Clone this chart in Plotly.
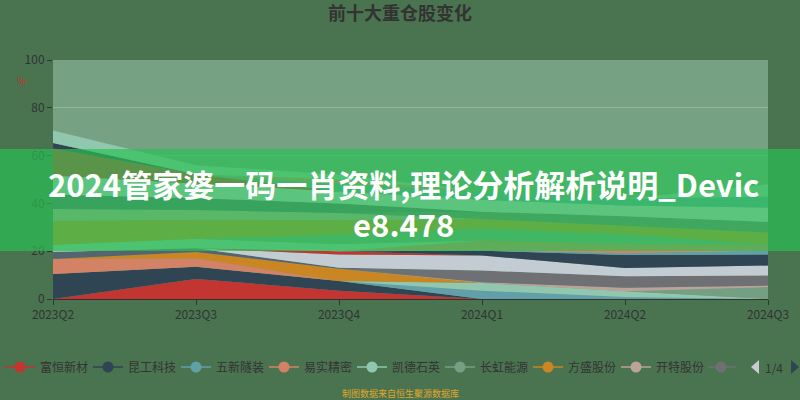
import plotly.graph_objects as go

# ---------------- data ----------------
quarters = ["2023Q2", "2023Q3", "2023Q4", "2024Q1", "2024Q2", "2024Q3"]

# legend stocks (first legend page)
fuheng = [0, 8.4, 3.5, 0, 0, 0]          # 富恒新材
kungong = [10.5, 5.1, 4.0, 0, 0, 0]      # 昆工科技
wuxin = [0, 0, 0, 3.5, 0.8, 0]           # 五新隧装
yishi = [6.2, 3.6, 0, 0, 0, 0]           # 易实精密
kaide = [0, 0, 0, 3.2, 2.4, 0]           # 凯德石英
changhong = [0, 0, 0, 0, 0, 5.0]         # 长虹能源
fangsheng = [0, 2.6, 5.2, 0, 0, 0]       # 方盛股份
kaite = [0, 0, 0, 0.3, 1.5, 0.6]         # 开特股份

# remaining holdings (later legend pages)
s09 = [0, 0, 0, 4.9, 4.8, 4.2]
s10 = [3.0, 1.5, 0.4, 0, 0, 0]
s11 = [0, 0, 5.5, 6.3, 3.5, 4.2]
s12 = [0, 0, 1.4, 0, 0, 0]
s13 = [0, 0, 0, 2.0, 5.4, 4.6]
s14 = [0, 0, 0, 0.3, 0.7, 1.7]
s15 = [0, 0, 0, 4.0, 4.0, 2.5]
s16 = [3.0, 4.0, 3.0, 0, 0, 0]
s17 = [0, 0, 4.0, 5.0, 4.0, 0]
s18 = [10.0, 8.0, 6.0, 4.0, 3.5, 5.0]
s19 = [5.0, 4.0, 3.0, 0, 0, 0]
s20 = [0, 0, 0, 3.0, 4.0, 4.5]
s21 = [6.0, 5.0, 4.0, 0, 0, 0]
s22 = [8.0, 6.0, 5.0, 5.0, 4.5, 6.0]
s23 = [11.3, 4.0, 0, 0, 0, 0]
s24 = [2.3, 0, 0, 0, 0, 0]
s25 = [0, 0, 3.0, 3.5, 2.8, 4.5]
s26 = [0, 0, 2.0, 0, 0, 0]
s27 = [5.2, 3.8, 2.0, 0, 0, 5.2]

legend_names = ["富恒新材", "昆工科技", "五新隧装", "易实精密", "凯德石英",
                "长虹能源", "方盛股份", "开特股份"]
other_names = ["持仓%02d" % i for i in range(9, 28)]

series = [fuheng, kungong, wuxin, yishi, kaide, changhong, fangsheng, kaite,
          s09, s10, s11, s12, s13, s14, s15, s16, s17, s18, s19, s20, s21,
          s22, s23, s24, s25, s26, s27]
names = legend_names + other_names

palette = ['#c23531', '#2f4554', '#61a0a8', '#d48265', '#91c7ae', '#749f83',
           '#ca8622', '#bda29a', '#6e7074', '#546570', '#c4ccd3']

title_text = "前十大重仓股变化"
banner_text = "2024管家婆一码一肖资料,理论分析解析说明_Devic<br>e8.478"
source_text = "制图数据来自恒生聚源数据库"
page_text = "1/4"

FONT = "Noto Sans CJK SC, Noto Sans, sans-serif"

# plot-area geometry (pixels)
L, R, T, B = 53, 32, 60, 101
PW, PH = 800 - L - R, 400 - T - B


def fx(px):
    return (px - L) / PW


def fy(py):
    return (400 - B - py) / PH


fig = go.Figure()

for i, (nm, vals) in enumerate(zip(names, series)):
    c = palette[i % len(palette)]
    fig.add_trace(go.Scatter(
        x=quarters, y=vals, name=nm, stackgroup="one", mode="lines",
        line=dict(width=0, color=c), fillcolor=c, showlegend=False,
        hoverinfo="skip"))

# legend-only entries (line + circle icon)
for i, nm in enumerate(legend_names):
    c = palette[i % len(palette)]
    fig.add_trace(go.Scatter(
        x=[None], y=[None], name=nm, mode="lines+markers",
        line=dict(color=c, width=1.5), marker=dict(size=11, color=c),
        showlegend=True))

shapes = []
# banner overlay
shapes.append(dict(type="rect", xref="paper", yref="paper",
                   x0=fx(0), x1=fx(800), y0=fy(251), y1=fy(149),
                   fillcolor="rgba(42,193,84,0.68)", line=dict(width=0),
                   layer="above"))
# 9th (cut) legend item: gray line + circle
c9 = palette[8]
shapes.append(dict(type="line", xref="paper", yref="paper",
                   x0=fx(708), x1=fx(736), y0=fy(367), y1=fy(367),
                   line=dict(color=c9, width=1.5)))
shapes.append(dict(type="circle", xref="paper", yref="paper",
                   x0=fx(715.5), x1=fx(726.5), y0=fy(372.5), y1=fy(361.5),
                   fillcolor=c9, line=dict(width=0)))
# pagination arrows
shapes.append(dict(type="path", xref="paper", yref="paper",
                   path="M %f %f L %f %f L %f %f Z" % (fx(751), fy(367), fx(759), fy(360), fx(759), fy(374)),
                   fillcolor="#c8ccd0", line=dict(width=0)))
shapes.append(dict(type="path", xref="paper", yref="paper",
                   path="M %f %f L %f %f L %f %f Z" % (fx(799), fy(367), fx(791), fy(360), fx(791), fy(374)),
                   fillcolor="#2f4554", line=dict(width=0)))

annotations = [
    dict(text=banner_text, xref="paper", yref="paper", x=fx(403), y=fy(203),
         xanchor="center", yanchor="middle", showarrow=False, align="center",
         font=dict(family=FONT, size=31, color="white", weight="bold")),
    dict(text="%", xref="paper", yref="paper", x=fx(21), y=fy(81),
         xanchor="center", yanchor="middle", showarrow=False,
         font=dict(family=FONT, size=10, color="#c23531")),
    dict(text=source_text, xref="paper", yref="paper", x=fx(400), y=fy(393),
         xanchor="center", yanchor="middle", showarrow=False,
         font=dict(family=FONT, size=9, color="#e0a628")),
    dict(text=page_text, xref="paper", yref="paper", x=fx(774), y=fy(367),
         xanchor="center", yanchor="middle", showarrow=False,
         font=dict(family=FONT, size=12, color="#333333")),
]

fig.update_layout(
    width=800, height=400,
    margin=dict(l=L, r=R, t=T, b=B),
    paper_bgcolor="#4a7350",
    plot_bgcolor="#76a283",
    font=dict(family=FONT, size=12, color="#333333"),
    title=dict(text=title_text, x=0.5, xref="container", xanchor="center",
               y=1 - 14 / 400, yref="container", yanchor="middle",
               font=dict(family=FONT, size=18, color="#333333", weight="bold")),
    showlegend=True,
    legend=dict(orientation="h", xref="container", yref="container",
                x=-14 / 800, xanchor="left", y=(400 - 367) / 400, yanchor="middle",
                entrywidth=43, entrywidthmode="pixels",
                bgcolor="rgba(0,0,0,0)", font=dict(size=12, color="#333333"),
                itemclick=False, traceorder="normal"),
    xaxis=dict(type="category", range=[0, 5], showgrid=False, zeroline=False,
               showline=True, linecolor="#333333", linewidth=1,
               ticks="outside", ticklen=5, tickcolor="#333333",
               tickfont=dict(size=12, color="#333333")),
    yaxis=dict(range=[0, 100], dtick=20, showgrid=True,
               gridcolor="rgba(255,255,255,0.22)", gridwidth=1,
               zeroline=False, showline=False, ticks="outside", ticklen=5,
               tickcolor="#333333", tickfont=dict(size=12, color="#333333")),
    shapes=shapes,
    annotations=annotations,
)

fig.write_html("out.html",
               config={"displayModeBar": False},
               post_script="document.body.style.margin='0';document.body.style.overflow='hidden';")
